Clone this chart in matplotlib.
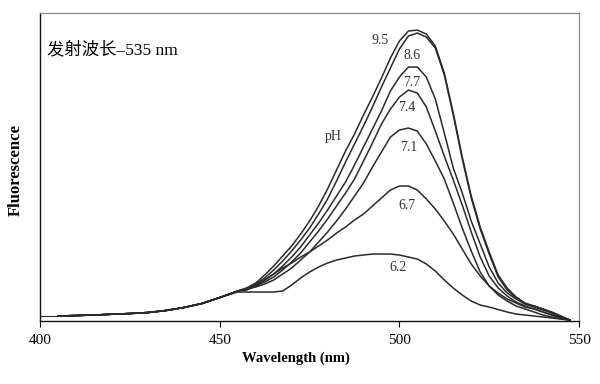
import numpy as np
import matplotlib
matplotlib.use('Agg')
import matplotlib.pyplot as plt

# wavelength grid (nm): coarse on the blue tail, 2.5 nm over the band
wavelength = [405, 410, 415, 420, 425, 430, 435, 440, 445, 450,
              455, 457.5, 460, 462.5, 465, 467.5, 470, 472.5, 475, 477.5,
              480, 482.5, 485, 487.5, 490, 492.5, 495, 497.5, 500, 502.5,
              505, 507.5, 510, 512.5, 515, 517.5, 520, 522.5, 525, 527.5,
              530, 532.5, 535, 537.5, 540, 542.5, 545, 547.5]

# shared low-wavelength tail (405-450 nm)
tail = [5, 5.5, 6, 6.8, 7.5, 8.5, 10.5, 13.5, 17.5, 23.5]

ph_labels = ['9.5', '8.6', '7.7', '7.4', '7.1', '6.7', '6.2']
fl_95 = tail + [30, 33, 38, 46, 55, 65, 75, 87, 100, 115,
                132, 151, 170, 187, 206, 224, 243, 263, 280, 290,
                291, 287, 275, 248, 208, 164, 125, 94, 69, 46,
                33, 24, 18, 15, 12, 9, 5, 1]
fl_86 = tail + [30, 33, 37, 43, 51, 60, 70, 81, 93, 107,
                122, 140, 159, 177, 195, 214, 234, 253, 272, 285,
                288, 284, 273, 246, 206, 162, 123, 92, 67, 44,
                31, 23, 17, 14, 11, 8, 4, 1]
fl_77 = tail + [30, 32, 36, 41, 47, 55, 64, 74, 86, 98,
                111, 125, 139, 156, 174, 192, 210, 230, 244, 254,
                254, 244, 222, 188, 153, 128, 100, 77, 54, 38,
                28, 22, 17, 15, 12, 8, 4, 1]
fl_74 = tail + [30, 32, 35, 39, 44, 51, 59, 68, 79, 90,
                102, 115, 128, 142, 160, 178, 197, 212, 224, 231,
                228, 214, 190, 165, 141, 116, 89, 64, 45, 33,
                25, 19, 15, 12, 9, 6, 3, 1]
fl_71 = tail + [30, 32, 34, 37, 41, 47, 53, 61, 69, 79,
                89, 100, 112, 125, 138, 154, 169, 184, 191, 193,
                190, 177, 160, 142, 118, 93, 70, 49, 35, 26,
                20, 15, 12, 9, 6, 4, 2, 1]
fl_67 = tail + [30, 31, 35, 41, 47, 53, 58, 64, 69, 75,
                81, 88, 94, 101, 107, 115, 123, 131, 135, 135,
                131, 122, 112, 100, 87, 72, 57, 45, 35, 28,
                22, 18, 14, 12, 9, 6, 3, 1]
fl_62 = tail + [29, 29, 29, 29, 29, 30, 36, 43, 49, 54,
                58, 61, 63, 65, 66, 67, 67, 67, 66, 64,
                62, 57, 50, 41, 33, 26, 20, 16, 14, 11.5,
                9, 7, 6, 5, 4, 3, 2, 1]

# label anchor (wavelength, intensity) for each pH value
label_x = [494.5, 503.5, 503.5, 502.0, 502.5, 502.0, 499.5]
label_y = [281, 266, 239, 214, 174, 116, 54]


def main():
    plt.rcParams['font.family'] = ['Liberation Serif', 'Noto Sans CJK SC']
    fig = plt.figure(figsize=(6, 3.84), dpi=100)
    ax = fig.add_axes([0.067, 0.164, 0.898, 0.802])

    series = [fl_95, fl_86, fl_77, fl_74, fl_71, fl_67, fl_62]
    for fl in series:
        ax.plot(wavelength, fl, color='#2a2a2a', lw=1.1)
    # flat start of the 6.2 trace
    ax.plot([400, 405], [5, 5], color='#2a2a2a', lw=0.8)

    for lab, lx, ly in zip(ph_labels, label_x, label_y):
        ax.text(lx, ly, lab, fontsize=10, color='#333333', ha='center', va='center')
    ax.text(481.5, 185, 'pH', fontsize=10, color='#333333', ha='center', va='center')

    ax.text(0.012, 0.88, '发射波长–535 nm', transform=ax.transAxes, fontsize=12.5,
            ha='left', va='center', family=['Liberation Serif', 'Noto Sans CJK SC'])

    ax.set_xlim(400, 550)
    ax.set_ylim(0, 308)
    ax.set_xticks([400, 450, 500, 550])
    ax.set_yticks([])
    ax.tick_params(axis='x', direction='out', length=4, width=0.8, labelsize=11, pad=5)
    ax.set_xlabel('Wavelength (nm)', fontsize=10.5, fontweight='bold')
    ax.xaxis.set_label_coords(0.475, -0.10)
    ax.set_ylabel('Fluorescence', fontsize=12, fontweight='bold')
    ax.yaxis.set_label_coords(-0.03, 0.49)

    for side in ['left', 'bottom']:
        ax.spines[side].set_color('#111111')
        ax.spines[side].set_linewidth(1.0)
    for side in ['top', 'right']:
        ax.spines[side].set_color('#888888')
        ax.spines[side].set_linewidth(0.9)

    fig.savefig('out.png', dpi=100)


if __name__ == '__main__':
    main()
